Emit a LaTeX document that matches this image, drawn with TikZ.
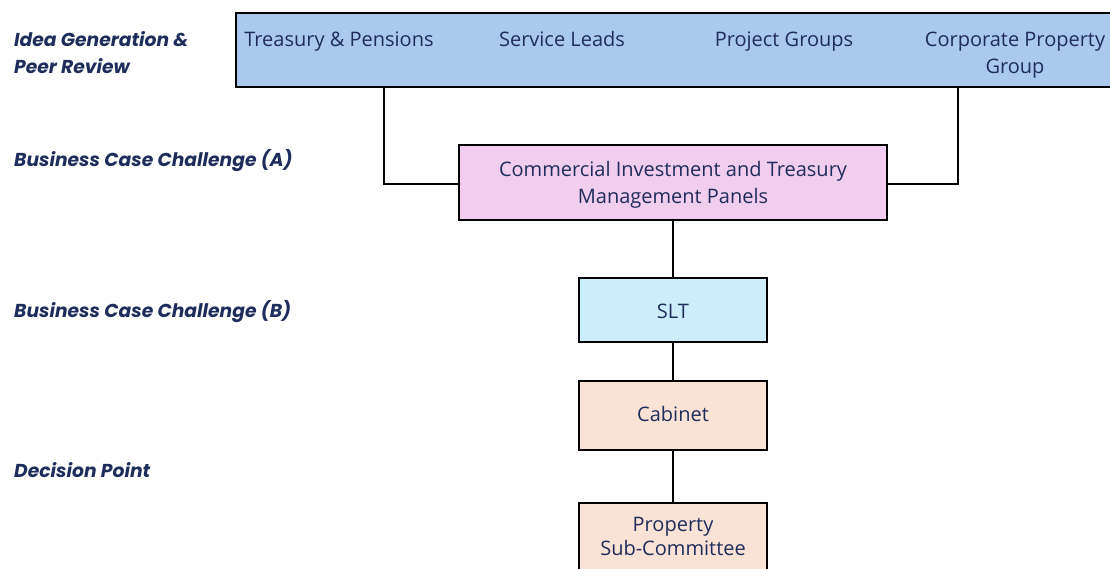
\documentclass[tikz,border=0pt]{standalone}
\usepackage{fontspec}
\setmainfont{Open Sans}
\newfontfamily\labelfont{Poppins}
\definecolor{navy}{HTML}{1F2D5C}
\definecolor{topblue}{HTML}{A9CAEC}
\definecolor{pinkbox}{HTML}{F1CEEF}
\definecolor{sltblue}{HTML}{CCEDFB}
\definecolor{peach}{HTML}{FBE2D6}
\begin{document}
\begin{tikzpicture}[x=1pt,y=-1pt,
  box/.style={draw=black,line width=1.5pt,rectangle,inner sep=0pt},
  boxtext/.style={text=navy,font=\fontsize{20}{27}\selectfont,anchor=base,inner sep=0pt},
  stage/.style={text=navy,font=\labelfont\fontsize{18.7}{27}\selectfont\bfseries\itshape,anchor=base west,inner sep=0pt},
  conn/.style={draw=black,line width=1.5pt}]
\clip (0,0) rectangle (1110,568);
\fill[white] (0,0) rectangle (1110,568);
% boxes
\node[box,fill=topblue,minimum width=878pt,minimum height=74pt] (top) at (675,50) {};
\node[box,fill=pinkbox,minimum width=428pt,minimum height=75pt] (panel) at (673,182.5) {};
\node[box,fill=sltblue,minimum width=188pt,minimum height=64pt] (slt) at (673,310) {};
\node[box,fill=peach,minimum width=188pt,minimum height=69pt] (cab) at (673,415.5) {};
\node[box,fill=peach,minimum width=188pt,minimum height=80pt] (psc) at (673,543) {};
% top texts
\node[boxtext] (tp) at (339,46) {Treasury \& Pensions};
\node[boxtext] (sl) at (562,46) {Service Leads};
\node[boxtext] (pg) at (784,46) {Project Groups};
\node[boxtext] (cpg1) at (1015,46) {Corporate Property};
\node[boxtext] (cpg2) at (1015,73) {Group};
\node[boxtext] (pt1) at (673,176) {Commercial Investment and Treasury};
\node[boxtext] (pt2) at (673,203) {Management Panels};
\node[boxtext] (st) at (673,318) {SLT};
\node[boxtext] (ct) at (673,421) {Cabinet};
\node[boxtext] (ps1) at (673,531) {Property};
\node[boxtext] (ps2) at (673,555) {Sub-Committee};
% stage labels
\node[stage] (s1a) at (14,46) {Idea Generation \&};
\node[stage] (s1b) at (14,73) {Peer Review};
\node[stage] (s2) at (14,166) {Business Case Challenge (A)};
\node[stage] (s3) at (14,317) {Business Case Challenge (B)};
\node[stage] (s4) at (14,477) {Decision Point};
% connectors
\coordinate (lt) at (384,87);
\coordinate (rt) at (958,87);
\draw[conn] (lt) |- (panel.west |- 0,184);
\draw[conn] (rt) |- (panel.east |- 0,184);
\draw[conn] (panel.south) -- (slt.north);
\draw[conn] (slt.south) -- (cab.north);
\draw[conn] (cab.south) -- (psc.north);
\end{tikzpicture}
\end{document}
